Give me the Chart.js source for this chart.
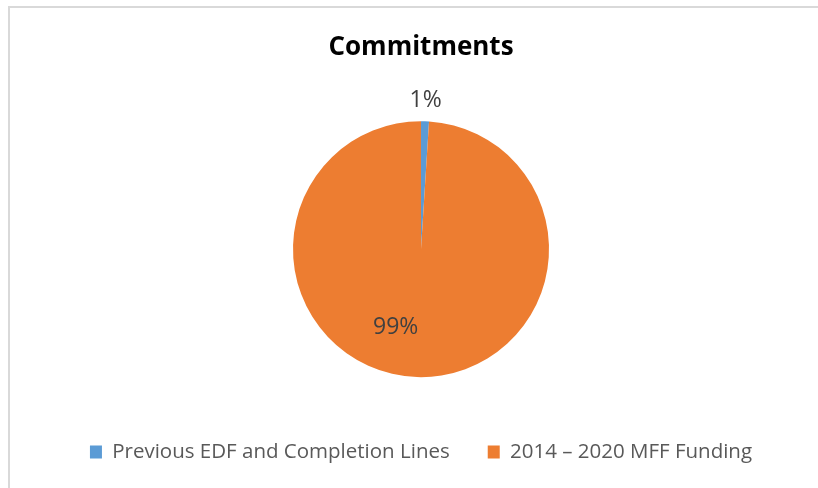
<!DOCTYPE html>
<html>
<head>
<meta charset="utf-8">
<script src="https://cdn.jsdelivr.net/npm/chart.js@4/dist/chart.umd.min.js"></script>
<style>
html,body{margin:0;padding:0;background:#fff;}
#wrap{width:818px;height:488px;position:relative;}
</style>
</head>
<body>
<div id="wrap"><canvas id="c" width="818" height="488"></canvas></div>
<script>
const chartTitle = "Commitments";
const categories = ["Previous EDF and Completion Lines", "2014 \u2013 2020 MFF Funding"];
const shares = [1, 99];
const sliceLabels = ["1%", "99%"];
const sliceColors = ["#5B9BD5", "#ED7D31"];

const frame = {
  id: 'frame',
  beforeDraw(chart) {
    const ctx = chart.ctx;
    ctx.save();
    ctx.fillStyle = '#fff';
    ctx.fillRect(0, 0, chart.width, chart.height);
    ctx.strokeStyle = '#d9d9d9';
    ctx.lineWidth = 2;
    ctx.beginPath();
    ctx.moveTo(9, chart.height + 5);
    ctx.lineTo(9, 7);
    ctx.lineTo(chart.width + 5, 7);
    ctx.stroke();
    ctx.restore();
  }
};

const pieLabels = {
  id: 'pieLabels',
  afterDatasetsDraw(chart) {
    const ctx = chart.ctx;
    const meta = chart.getDatasetMeta(0);
    ctx.save();
    ctx.font = '23px "Open Sans"';
    ctx.fillStyle = '#404040';
    ctx.textAlign = 'center';
    ctx.textBaseline = 'middle';
    meta.data.forEach((arc, i) => {
      const p = arc.getProps(['x', 'y', 'startAngle', 'endAngle', 'outerRadius'], true);
      let ang, r;
      if (i === 0) {
        ang = (p.startAngle + p.endAngle) / 2;
        r = p.outerRadius + 21;
      } else {
        ang = -Math.PI / 2 + 198 * Math.PI / 180;
        r = p.outerRadius * 0.64;
      }
      ctx.fillText(sliceLabels[i], p.x + Math.cos(ang) * r, p.y + Math.sin(ang) * r);
    });
    ctx.restore();
  }
};

new Chart(document.getElementById('c'), {
  type: 'pie',
  data: {
    labels: categories,
    datasets: [{
      data: shares,
      backgroundColor: sliceColors,
      borderColor: '#ffffff',
      borderWidth: 0,
      radius: 128
    }]
  },
  options: {
    responsive: false,
    animation: false,
    layout: { padding: { left: 24, right: 0, top: 0, bottom: 15.75 } },
    plugins: {
      title: {
        display: true,
        text: chartTitle,
        color: '#000',
        font: { family: '"Open Sans"', size: 26, weight: 'bold', lineHeight: 1.2 },
        padding: { top: 32.4, bottom: 30.9 }
      },
      legend: {
        position: 'bottom',
        labels: {
          color: '#595959',
          font: { family: '"Open Sans"', size: 20.5 },
          boxWidth: 12,
          boxHeight: 13,
          padding: 38
        }
      },
      tooltip: { enabled: false }
    }
  },
  plugins: [frame, pieLabels]
});
</script>
</body>
</html>
